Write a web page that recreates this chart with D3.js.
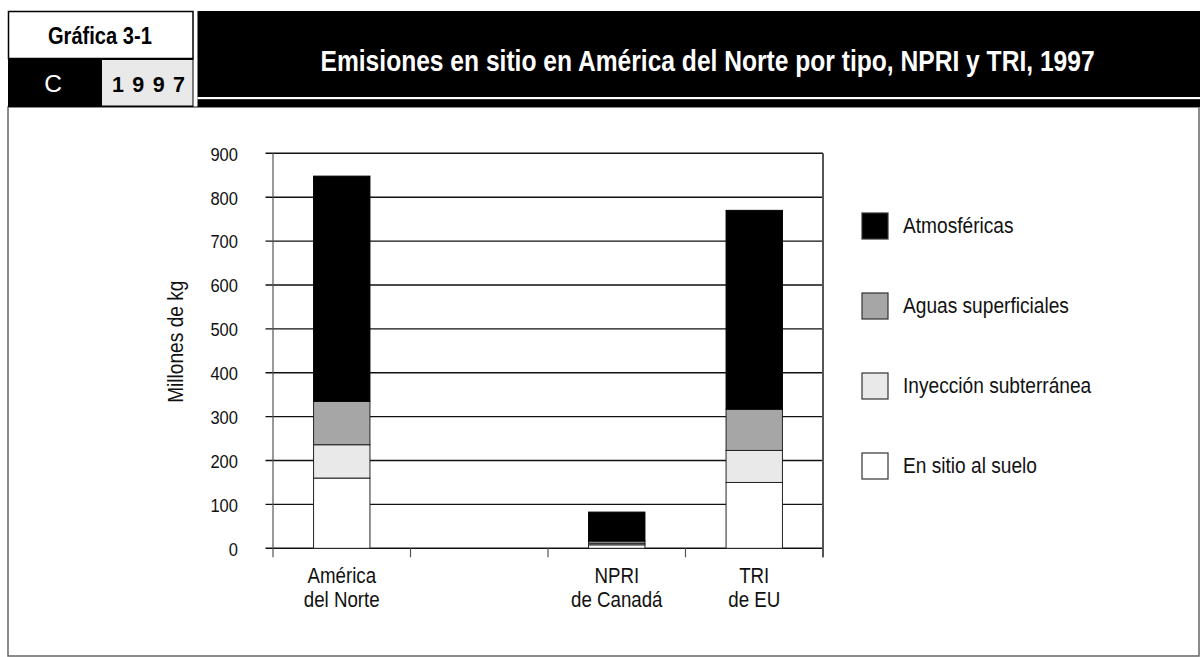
<!DOCTYPE html>
<html>
<head>
<meta charset="utf-8">
<script src="https://cdn.jsdelivr.net/npm/d3@7"></script>
<style>
  html, body { margin: 0; padding: 0; background: #fff; }
  svg { display: block; }
  text { font-family: "Liberation Sans", Arial, sans-serif; }
</style>
</head>
<body>
<svg id="chart" width="1200" height="657"></svg>
<script>
// ---------- data ----------
const categories = ["América|del Norte", "", "NPRI|de Canadá", "TRI|de EU"];
const seriesNames = ["En sitio al suelo", "Inyección subterránea", "Aguas superficiales", "Atmosféricas"];
const suelo        = [160, 0, 8,   150];
const inyeccion    = [76,  0, 3.5, 73];
const aguas        = [99,  0, 5,   94];
const atmosfericas = [513, 0, 66,  453];
const yTicks = [0, 100, 200, 300, 400, 500, 600, 700, 800, 900];
const legendOrder = ["Atmosféricas", "Aguas superficiales", "Inyección subterránea", "En sitio al suelo"];
const titleText = "Emisiones en sitio en América del Norte por tipo, NPRI y TRI, 1997";

const colors = {
  "Atmosféricas": "#000000",
  "Aguas superficiales": "#a6a6a6",
  "Inyección subterránea": "#e9e9e9",
  "En sitio al suelo": "#ffffff"
};
const SX = 0.87; // horizontal condensing to mimic a condensed typeface

const svg = d3.select("#chart");

function ctext(parent, px, py, size, sx, str, anchor) {
  return parent.append("text")
    .attr("transform", `translate(${px},${py}) scale(${sx},1)`)
    .attr("text-anchor", anchor || "start")
    .attr("font-size", size).attr("fill", "#111").text(str);
}

// ---------- header ----------
svg.append("rect").attr("x", 8).attr("y", 107).attr("width", 1191).attr("height", 549)
  .attr("fill", "none").attr("stroke", "#666").attr("stroke-width", 1.5);

svg.append("rect").attr("x", 8.5).attr("y", 11.5).attr("width", 184.5).attr("height", 47)
  .attr("fill", "#fff").attr("stroke", "#000").attr("stroke-width", 1.5);
svg.append("rect").attr("x", 8).attr("y", 58).attr("width", 185.5).attr("height", 49).attr("fill", "#000");
svg.append("rect").attr("x", 102).attr("y", 60).attr("width", 90.5).attr("height", 45.5).attr("fill", "#e9e9e9");
svg.append("text").attr("transform", "translate(48,43.5) scale(0.82,1)")
  .attr("font-size", 24.5).attr("font-weight", "bold").attr("fill", "#000").text("Gráfica 3-1");
svg.append("text").attr("x", 53).attr("y", 91.5).attr("text-anchor", "middle")
  .attr("font-size", 24.5).attr("fill", "#fff").text("C");
svg.append("text").attr("x", 112).attr("y", 91.5)
  .attr("font-size", 21.5).attr("font-weight", "bold").attr("fill", "#000")
  .attr("textLength", 73).attr("lengthAdjust", "spacing").text("1 9 9 7");

svg.append("rect").attr("x", 197.5).attr("y", 11).attr("width", 1002.5).attr("height", 96).attr("fill", "#000");
svg.append("rect").attr("x", 197.5).attr("y", 97).attr("width", 1002.5).attr("height", 2.2).attr("fill", "#fff");
svg.append("text").attr("transform", "translate(320.5,70.5) scale(0.849,1)")
  .attr("font-size", 29).attr("font-weight", "bold").attr("fill", "#fff").text(titleText);

// ---------- plot ----------
const x0 = 273, x1 = 823, yBottom = 548.3, yTop = 153.3;
const x = d3.scaleBand().domain(categories).range([x0, x1]).padding(0);
const y = d3.scaleLinear().domain([0, 900]).range([yBottom, yTop]);

const table = categories.map((c, i) => ({
  cat: c,
  "En sitio al suelo": suelo[i],
  "Inyección subterránea": inyeccion[i],
  "Aguas superficiales": aguas[i],
  "Atmosféricas": atmosfericas[i]
}));
const stacked = d3.stack().keys(seriesNames)(table);

svg.append("g").selectAll("line").data(yTicks).join("line")
  .attr("x1", x0 - 7.5).attr("x2", x1)
  .attr("y1", d => y(d)).attr("y2", d => y(d))
  .attr("stroke", "#111").attr("stroke-width", 1.4);

const yAxis = d3.axisLeft(y).tickValues(yTicks).tickSize(0).tickFormat(d3.format("d"));
const gY = svg.append("g").attr("transform", `translate(${238},0)`).call(yAxis);
gY.select(".domain").remove();
gY.selectAll("text").attr("font-size", 19).attr("fill", "#111")
  .attr("x", 0).attr("dy", "0.36em").attr("transform", `scale(${SX},1)`);

svg.append("line").attr("x1", x0).attr("x2", x0).attr("y1", yTop).attr("y2", yBottom)
  .attr("stroke", "#555").attr("stroke-width", 1.2);
svg.append("line").attr("x1", x1).attr("x2", x1).attr("y1", yTop).attr("y2", yBottom + 9)
  .attr("stroke", "#555").attr("stroke-width", 2);

const xTickPos = categories.map(c => x(c)).concat([x1]);
svg.append("g").selectAll("line").data(xTickPos).join("line")
  .attr("x1", d => d).attr("x2", d => d).attr("y1", yBottom).attr("y2", yBottom + 9)
  .attr("stroke", "#555").attr("stroke-width", 1.2);

const barW = x.bandwidth() * 0.41;
stacked.forEach(layer => {
  svg.append("g").selectAll("rect")
    .data(layer.filter(d => d[1] - d[0] > 0))
    .join("rect")
    .attr("x", d => x(d.data.cat) + (x.bandwidth() - barW) / 2)
    .attr("width", barW)
    .attr("y", d => y(d[1]))
    .attr("height", d => y(d[0]) - y(d[1]))
    .attr("fill", colors[layer.key])
    .attr("stroke", layer.key === "Atmosféricas" ? "#000" : "#222")
    .attr("stroke-width", 1);
});

categories.forEach(c => {
  if (!c) return;
  c.split("|").forEach((ln, i) => {
    ctext(svg, x(c) + x.bandwidth() / 2, 582.5 + i * 24.5, 21.5, SX, ln, "middle");
  });
});

svg.append("text").attr("transform", `translate(183,341.7) rotate(-90) scale(${SX},1)`)
  .attr("text-anchor", "middle").attr("font-size", 22).attr("fill", "#111").text("Millones de kg");

const lg = svg.append("g");
legendOrder.forEach((name, i) => {
  const cy = 226 + i * 80;
  lg.append("rect").attr("x", 862).attr("y", cy - 13).attr("width", 26).attr("height", 26)
    .attr("fill", colors[name]).attr("stroke", "#333").attr("stroke-width", 1.2);
  ctext(lg, 903, cy + 7, 22, SX, name, "start");
});
</script>
</body>
</html>
